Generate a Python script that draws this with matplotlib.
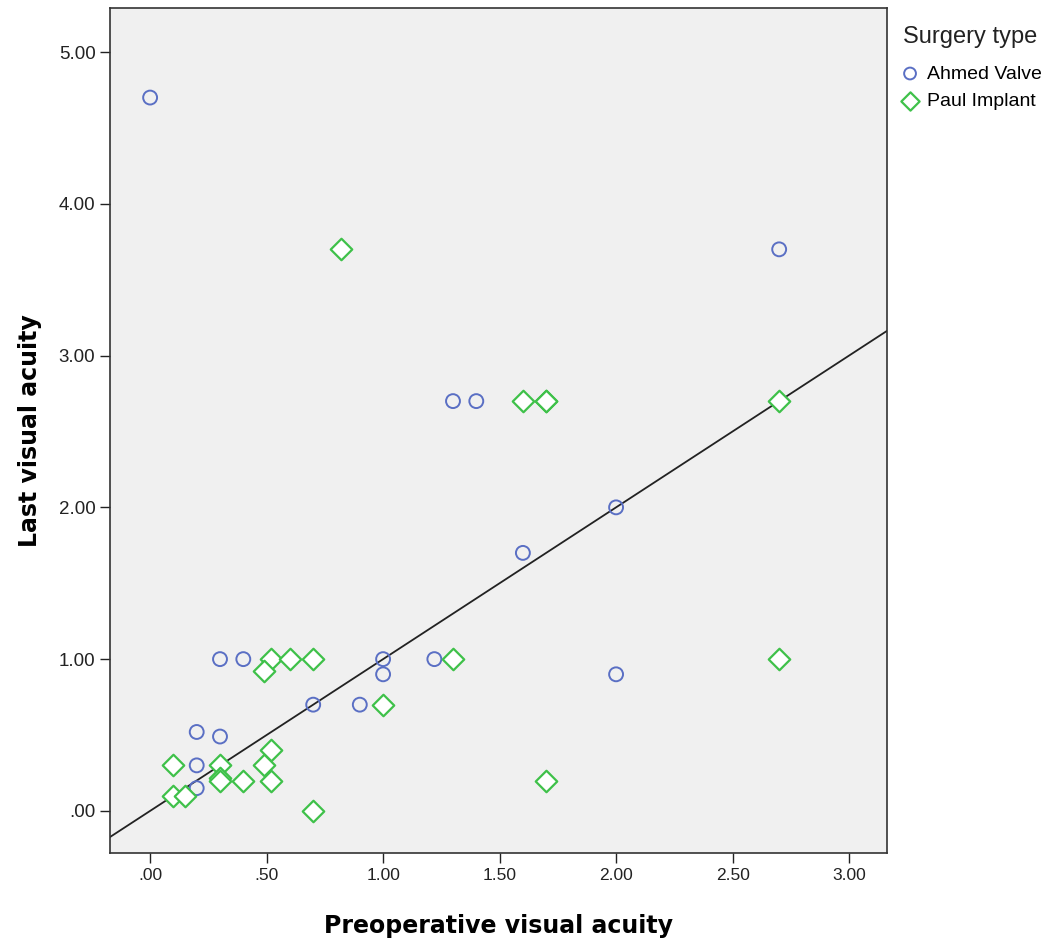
import matplotlib.pyplot as plt

# Preoperative (x) vs last (y) visual acuity
ahmed_pre = [0.00, 0.30, 0.40, 0.70, 0.90, 0.20, 0.30, 0.20, 0.20, 1.00, 1.00,
             1.22, 2.00, 1.30, 1.40, 2.00, 1.60, 2.70]
ahmed_last = [4.70, 1.00, 1.00, 0.70, 0.70, 0.52, 0.49, 0.30, 0.15, 1.00, 0.90,
              1.00, 0.90, 2.70, 2.70, 2.00, 1.70, 3.70]

paul_pre = [0.52, 0.60, 0.70, 0.49, 0.52, 0.10, 0.30, 0.49, 0.30, 0.30, 0.40,
            0.52, 0.10, 0.15, 0.70, 1.30, 1.00, 1.70, 1.60, 1.70, 1.70, 2.70,
            0.82, 2.70]
paul_last = [1.00, 1.00, 1.00, 0.92, 0.40, 0.30, 0.30, 0.30, 0.22, 0.20, 0.20,
             0.20, 0.10, 0.10, 0.00, 1.00, 0.70, 0.20, 2.70, 2.70, 2.70, 2.70,
             3.70, 1.00]

# reference line (y = x)
ref_intercept = 0.0
ref_slope = 1.0

xticks = [0, 0.5, 1, 1.5, 2, 2.5, 3]
xticklabels = ['.00', '.50', '1.00', '1.50', '2.00', '2.50', '3.00']
yticks = [0, 1, 2, 3, 4, 5]
yticklabels = ['.00', '1.00', '2.00', '3.00', '4.00', '5.00']

plt.rcParams['font.family'] = ['Liberation Sans', 'DejaVu Sans']

fig = plt.figure(figsize=(10.53, 9.43), dpi=100)
ax = fig.add_axes([0.1045, 0.0955, 0.7379, 0.896])
ax.set_facecolor('#f0f0f0')

ax.scatter(ahmed_pre, ahmed_last, s=100, facecolors='none', edgecolors='#5a6fc4',
           linewidths=1.4, label='Ahmed Valve', zorder=3)
ax.scatter(paul_pre, paul_last, s=120, marker='D', facecolors='white',
           edgecolors='#3fc14a', linewidths=1.6, label='Paul Implant', zorder=3)

ax.axline((0, ref_intercept), slope=ref_slope, color='#222222', lw=1.3, zorder=2)

ax.set_xlim(-0.172, 3.163)
ax.set_ylim(-0.277, 5.29)
ax.set_xticks(xticks)
ax.set_xticklabels(xticklabels)
ax.set_yticks(yticks)
ax.set_yticklabels(yticklabels)
ax.tick_params(direction='out', length=7, width=1, colors='#222222')
ax.tick_params(axis='x', labelsize=12.5)
ax.tick_params(axis='y', labelsize=13.5)
for s in ax.spines.values():
    s.set_color('#333333')
    s.set_linewidth(1.2)

ax.set_xlabel('Preoperative visual acuity', family='DejaVu Sans',
              fontweight='bold', fontsize=17, labelpad=23)
ax.set_ylabel('Last visual acuity', family='DejaVu Sans',
              fontweight='bold', fontsize=17, labelpad=12)

# legend title drawn separately so its gap can be matched
fig.text(0.8575, 1 - 37 / 943, 'Surgery type', fontsize=17, va='center',
         color='#222222')
fig.legend(loc='upper left', bbox_to_anchor=(0.855, 1 - 65 / 943), frameon=False,
           fontsize=14, handletextpad=0.35, labelspacing=0.5, borderaxespad=0,
           borderpad=0, handlelength=1.0, markerscale=0.85)

fig.savefig('out.png', dpi=100)
